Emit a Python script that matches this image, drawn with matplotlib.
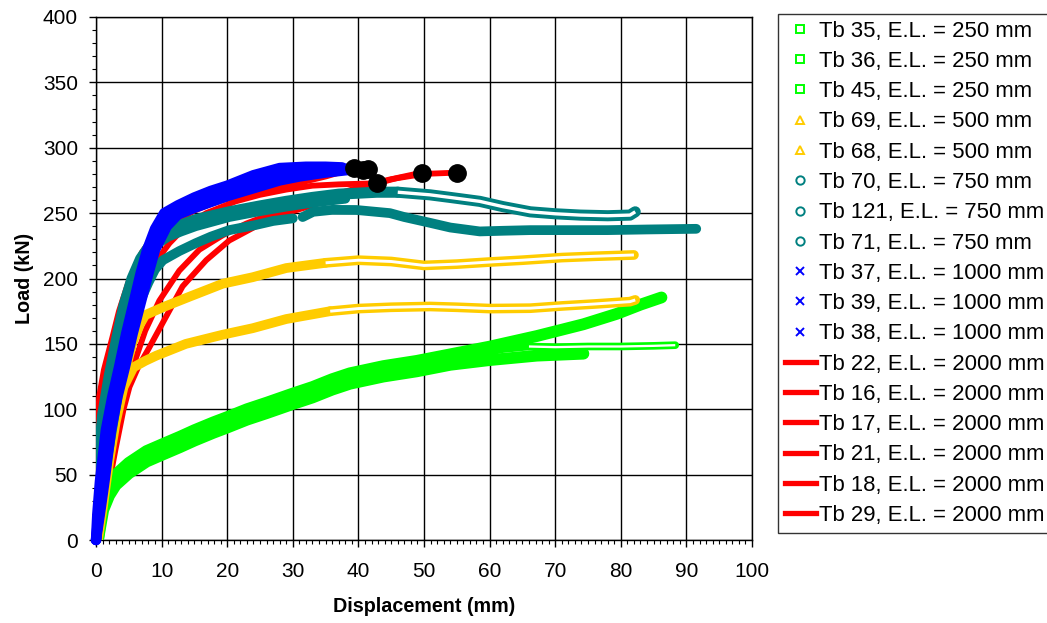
import numpy as np
import matplotlib
matplotlib.use("Agg")
import matplotlib.pyplot as plt
from matplotlib.lines import Line2D
from matplotlib.ticker import MultipleLocator

plt.rcParams['font.family'] = ['Liberation Sans', 'DejaVu Sans']

# ---------------- data (displacement mm, load kN) ----------------
# E.L. = 250 mm (green squares)
tb35_x = [0.3, 1.1, 2, 3, 5, 7.7, 10, 12.8, 15, 17.9, 20, 23, 26, 30, 33, 36, 38.7, 43.8, 48.9, 54, 60.1, 67.2, 74.3, 79.4, 83, 86.2]
tb35_y = [0, 31, 42, 50, 59, 68, 73, 79, 84, 90, 94, 100, 105, 112, 117, 123, 127.5, 133, 137, 142, 148, 156, 165, 173, 180, 185.5]
tb36_x = [0.3, 1.1, 2, 3, 5, 7.7, 10, 12.8, 15, 17.9, 20, 23, 26, 30, 33, 36, 38.7, 43.8, 48.9, 54, 58, 62, 66, 70, 75, 80, 85, 88.3]
tb36_y = [0, 27, 38, 46, 55, 64, 69, 75, 80, 86, 90, 96, 101, 108, 113, 119, 123.5, 129, 133, 138, 142, 146, 148, 147.5, 148, 148, 148.5, 149]
tb45_x = [0.3, 1.1, 2, 3, 5, 7.7, 10, 12.8, 15, 17.9, 20, 23, 26, 30, 33, 36, 38.7, 43.8, 48.9, 54, 60, 67.2, 74.3]
tb45_y = [0, 23, 34, 42, 51, 60, 65, 71, 76, 82, 86, 92, 97, 104, 109, 115, 119.5, 125, 129, 134, 137.6, 141, 142.5]

# E.L. = 500 mm (yellow triangles)
tb69_x = [0, 1, 2.5, 4, 5.5, 6.7, 7.5, 10.2, 14.2, 19.3, 23.9, 29, 35, 40, 45, 50, 55, 60, 65, 71, 76, 82]
tb69_y = [0, 40, 85, 120, 150, 165, 172, 178, 186, 196, 201, 208, 212, 214, 213, 210, 211, 212.6, 214, 216, 217, 218]
tb68_x = [0.3, 1.1, 2, 3, 4.2, 5.7, 7.5, 9.2, 10.2, 13.7, 19.3, 23.9, 29, 35.7, 40, 45, 50.9, 55, 60, 66.2, 71, 76, 81.4, 82.2]
tb68_y = [0, 27, 60, 90, 117, 132, 137, 141, 143, 150, 157, 162, 169, 175, 177, 178, 178.6, 178, 177, 177.3, 179, 180.5, 182.3, 183.6]

# E.L. = 750 mm (teal circles)
tb70_x = [0, 0.1, 0.4, 1, 2, 3.2, 4.3, 5.5, 6.8, 8.3, 10, 11.5, 13, 15.2, 20.3, 25, 29, 33, 37, 42.8, 46, 50.9, 54, 58.5, 62, 66.2, 70, 73.8, 78, 81.4, 82.2]
tb70_y = [0, 30, 60, 95, 125, 155, 180, 200, 215, 226, 233, 238, 241, 245, 251, 255.5, 259, 262, 264.5, 266, 266, 264, 262, 259, 255, 251, 249.5, 248.5, 248, 248.5, 251]
tb121_x = [0, 0.8, 1.8, 2.8, 3.8, 5, 6.5, 8, 9, 10.2, 12.7, 15.2, 17.5, 20.3, 24.4, 27, 30, np.nan, 31.5, 33.1, 36, 39.7, 44.8, 47, 50.9, 54, 58.5, 62, 66.2, 72, 78, 84, 91.5]
tb121_y = [0, 30, 65, 95, 125, 155, 180, 197, 207, 214, 221, 227, 232, 237, 241, 244, 246, np.nan, 247, 251, 252.5, 252.4, 250, 247, 242.6, 239, 236, 236.5, 237, 237, 237, 237.5, 238]
tb71_x = [0, 0.3, 0.8, 1.5, 2.7, 3.8, 4.9, 6.1, 7.5, 9.2, 11, 13, 15.2, 20.3, 25, 29, 33, 38]
tb71_y = [0, 30, 60, 95, 125, 155, 180, 200, 215, 226, 232, 236, 240, 247, 251.5, 255, 258, 261]

# E.L. = 1000 mm (blue crosses)
tb37_x = [0, 0.2, 0.6, 1.5, 2.5, 3.5, 4.6, 5.8, 6.8, 7.8, 9, 10.4, 12.5, 15, 17.5, 20, 24, 28, 32, 35, 37.5]
tb37_y = [0, 20, 45, 84, 110, 132, 158, 183, 204, 222, 238, 250, 256, 262, 267, 271, 279, 284.5, 285.5, 285.5, 285]
tb39_x = [0, 0.4, 0.95, 1.9, 2.9, 3.95, 5.1, 6.35, 7.4, 8.4, 9.8, 11.4, 13.5, 16, 18.5, 21, 25, 29, 33, 36, 38.5]
tb39_y = [0, 20, 45, 84, 110, 132, 158, 183, 204, 222, 236, 246, 252, 258, 262, 266, 274, 280, 283, 284, 284]
tb38_x = [0, 0.6, 1.3, 2.3, 3.3, 4.4, 5.6, 6.9, 8, 9, 10.8, 12.5, 15, 17.5, 20, 24, 28, 31, 35, 38.5]
tb38_y = [0, 20, 45, 84, 110, 132, 158, 183, 204, 222, 240, 249, 254, 258.5, 263, 269, 275, 278, 281, 283]

# E.L. = 2000 mm (red lines)
tb22_x = [0, 0.05, 0.15, 0.5, 1.2, 2.5, 3.5, 5, 7, 9, 12, 15, 20, 25, 30, 35, 39.3]
tb22_y = [0, 50, 85, 110, 130, 155, 175, 198, 220, 234, 246, 253, 261, 267, 272, 278, 284.3]
tb16_x = [0, 1, 2.5, 4, 5.5, 6.8, 8.1, 11.2, 13.7, 16.8, 21.3, 25, 29, 33, 37, 42.8]
tb16_y = [0, 30, 70, 110, 145, 180, 206, 227, 240, 250, 259, 264, 268, 271, 272, 272.8]
tb17_x = [0, 1.5, 3, 4.3, 5.6, 7.5, 9.65, 12.7, 15.75, 19.3, 22.9, 26, 29, 33, 37, 41, 45, 50, 55.1]
tb17_y = [0, 35, 75, 105, 132, 160, 183, 206, 222, 233, 242, 248, 253, 258, 265, 271, 276, 280, 281]
tb21_x = [0, 1.5, 3, 4.2, 5.1, 6.5, 8.1, 10.7, 13.2, 16.8, 20.3, 24.4, 29, 33, 37, 40, 43, 46, 49.7]
tb21_y = [0, 30, 70, 100, 117, 133, 147, 171, 194, 214, 229, 240, 250, 256, 263, 268, 273, 277, 281]
tb18_x = [0, 0.5, 1.5, 3, 5, 7.5, 10, 14, 20, 27, 33, 37, 40.7]
tb18_y = [0, 50, 100, 150, 190, 222, 240, 252, 263, 273, 279, 282, 283]
tb29_x = [0, 0.7, 2, 3.8, 6, 8.5, 11, 15, 20, 27, 33, 38, 41.4]
tb29_y = [0, 50, 100, 150, 195, 225, 240, 252, 262, 272, 279, 282, 283.7]

# failure points (black dots)
fail_x = [39.3, 40.7, 41.4, 42.8, 49.7, 55.1]
fail_y = [284.3, 283, 283.7, 272.8, 281, 281]

labels = ["Tb 35, E.L. = 250 mm", "Tb 36, E.L. = 250 mm", "Tb 45, E.L. = 250 mm",
          "Tb 69, E.L. = 500 mm", "Tb 68, E.L. = 500 mm",
          "Tb 70, E.L. = 750 mm", "Tb 121, E.L. = 750 mm", "Tb 71, E.L. = 750 mm",
          "Tb 37, E.L. = 1000 mm", "Tb 39, E.L. = 1000 mm", "Tb 38, E.L. = 1000 mm",
          "Tb 22, E.L. = 2000 mm", "Tb 16, E.L. = 2000 mm", "Tb 17, E.L. = 2000 mm",
          "Tb 21, E.L. = 2000 mm", "Tb 18, E.L. = 2000 mm", "Tb 29, E.L. = 2000 mm"]

GREEN = '#00FF00'
YELLOW = '#FFCC00'
TEAL = '#008080'
BLUE = '#0000FF'
RED = '#FF0000'

fig = plt.figure(figsize=(10.47, 6.23), dpi=100)
ax = fig.add_axes([96 / 1047, 83 / 623, 656 / 1047, 523 / 623])


def draw(x, y, color, lw, tail_from=None, z=3, clip=True):
    x = np.asarray(x, float)
    y = np.asarray(y, float)
    kw = dict(solid_capstyle='round', solid_joinstyle='round', zorder=z, clip_on=clip)
    if tail_from is None:
        ax.plot(x, y, color=color, lw=lw, **kw)
    else:
        i = int(np.argmax(x >= tail_from))
        ax.plot(x[:i + 1], y[:i + 1], color=color, lw=lw, **kw)
        ax.plot(x[i:], y[i:], color=color, lw=lw, **kw)
        ax.plot(x[i:], y[i:], color='white', lw=lw * 0.3, zorder=z + 0.01,
                clip_on=clip, solid_capstyle='butt')


# red first (underneath)
for xs, ys in [(tb22_x, tb22_y), (tb16_x, tb16_y), (tb17_x, tb17_y),
               (tb21_x, tb21_y), (tb18_x, tb18_y), (tb29_x, tb29_y)]:
    draw(xs, ys, RED, 4.2, z=2.6)

draw(tb35_x, tb35_y, GREEN, 8.5, z=3.0)
draw(tb45_x, tb45_y, GREEN, 8.5, z=3.0)
draw(tb36_x, tb36_y, GREEN, 5.5, tail_from=63, z=3.02)

draw(tb69_x, tb69_y, YELLOW, 7, tail_from=31, z=3.1)
draw(tb68_x, tb68_y, YELLOW, 7, tail_from=34, z=3.1)

draw(tb121_x, tb121_y, TEAL, 7, z=3.2)
draw(tb71_x, tb71_y, TEAL, 7, z=3.2)
draw(tb70_x, tb70_y, TEAL, 8, tail_from=43, z=3.21)

draw(tb37_x, tb37_y, BLUE, 7.5, z=3.4, clip=False)
draw(tb39_x, tb39_y, BLUE, 7.5, z=3.4, clip=False)
draw(tb38_x, tb38_y, BLUE, 7.5, z=3.4, clip=False)

ax.plot(fail_x, fail_y, ls='none', marker='o', ms=12.5, color='black', zorder=4)

ax.set_xlim(0, 100)
ax.set_ylim(0, 400)
ax.xaxis.set_major_locator(MultipleLocator(10))
ax.xaxis.set_minor_locator(MultipleLocator(1))
ax.yaxis.set_major_locator(MultipleLocator(50))
ax.yaxis.set_minor_locator(MultipleLocator(10))
ax.grid(True, which='major', color='black', lw=1.0)
ax.set_axisbelow(True)
for s in ax.spines.values():
    s.set_color('black')
    s.set_linewidth(1.0)
ax.tick_params(which='major', direction='out', length=5, width=1, labelsize=15)
ax.tick_params(axis='x', which='major', pad=11)
ax.tick_params(axis='y', which='major', pad=8)
ax.tick_params(which='minor', direction='out', length=3, width=0.8)
ax.set_xlabel('Displacement (mm)', fontsize=14.2, fontweight='bold', labelpad=11)
ax.set_ylabel('Load (kN)', fontsize=14.2, fontweight='bold', labelpad=6)

# legend
handles = []
for _ in range(3):
    handles.append(Line2D([], [], ls='none', marker='s', ms=5.5, mfc='none', mec=GREEN, mew=1.4))
for _ in range(2):
    handles.append(Line2D([], [], ls='none', marker='^', ms=6, mfc='none', mec=YELLOW, mew=1.4))
for _ in range(3):
    handles.append(Line2D([], [], ls='none', marker='o', ms=6, mfc='none', mec=TEAL, mew=1.4))
for _ in range(3):
    handles.append(Line2D([], [], ls='none', marker='x', ms=6, mec=BLUE, mew=1.4))
for _ in range(6):
    handles.append(Line2D([], [], color=RED, lw=3.8))

leg = fig.legend(handles, labels, loc='upper left', bbox_to_anchor=(778 / 1047, 1 - 14 / 623),
                 frameon=True, fancybox=False, fontsize=15.9, labelspacing=0.42,
                 handlelength=1.4, handletextpad=0.14, borderpad=0.3, borderaxespad=0)
leg.get_frame().set_edgecolor('black')
leg.get_frame().set_linewidth(1.0)

fig.savefig('out.png', dpi=100)
